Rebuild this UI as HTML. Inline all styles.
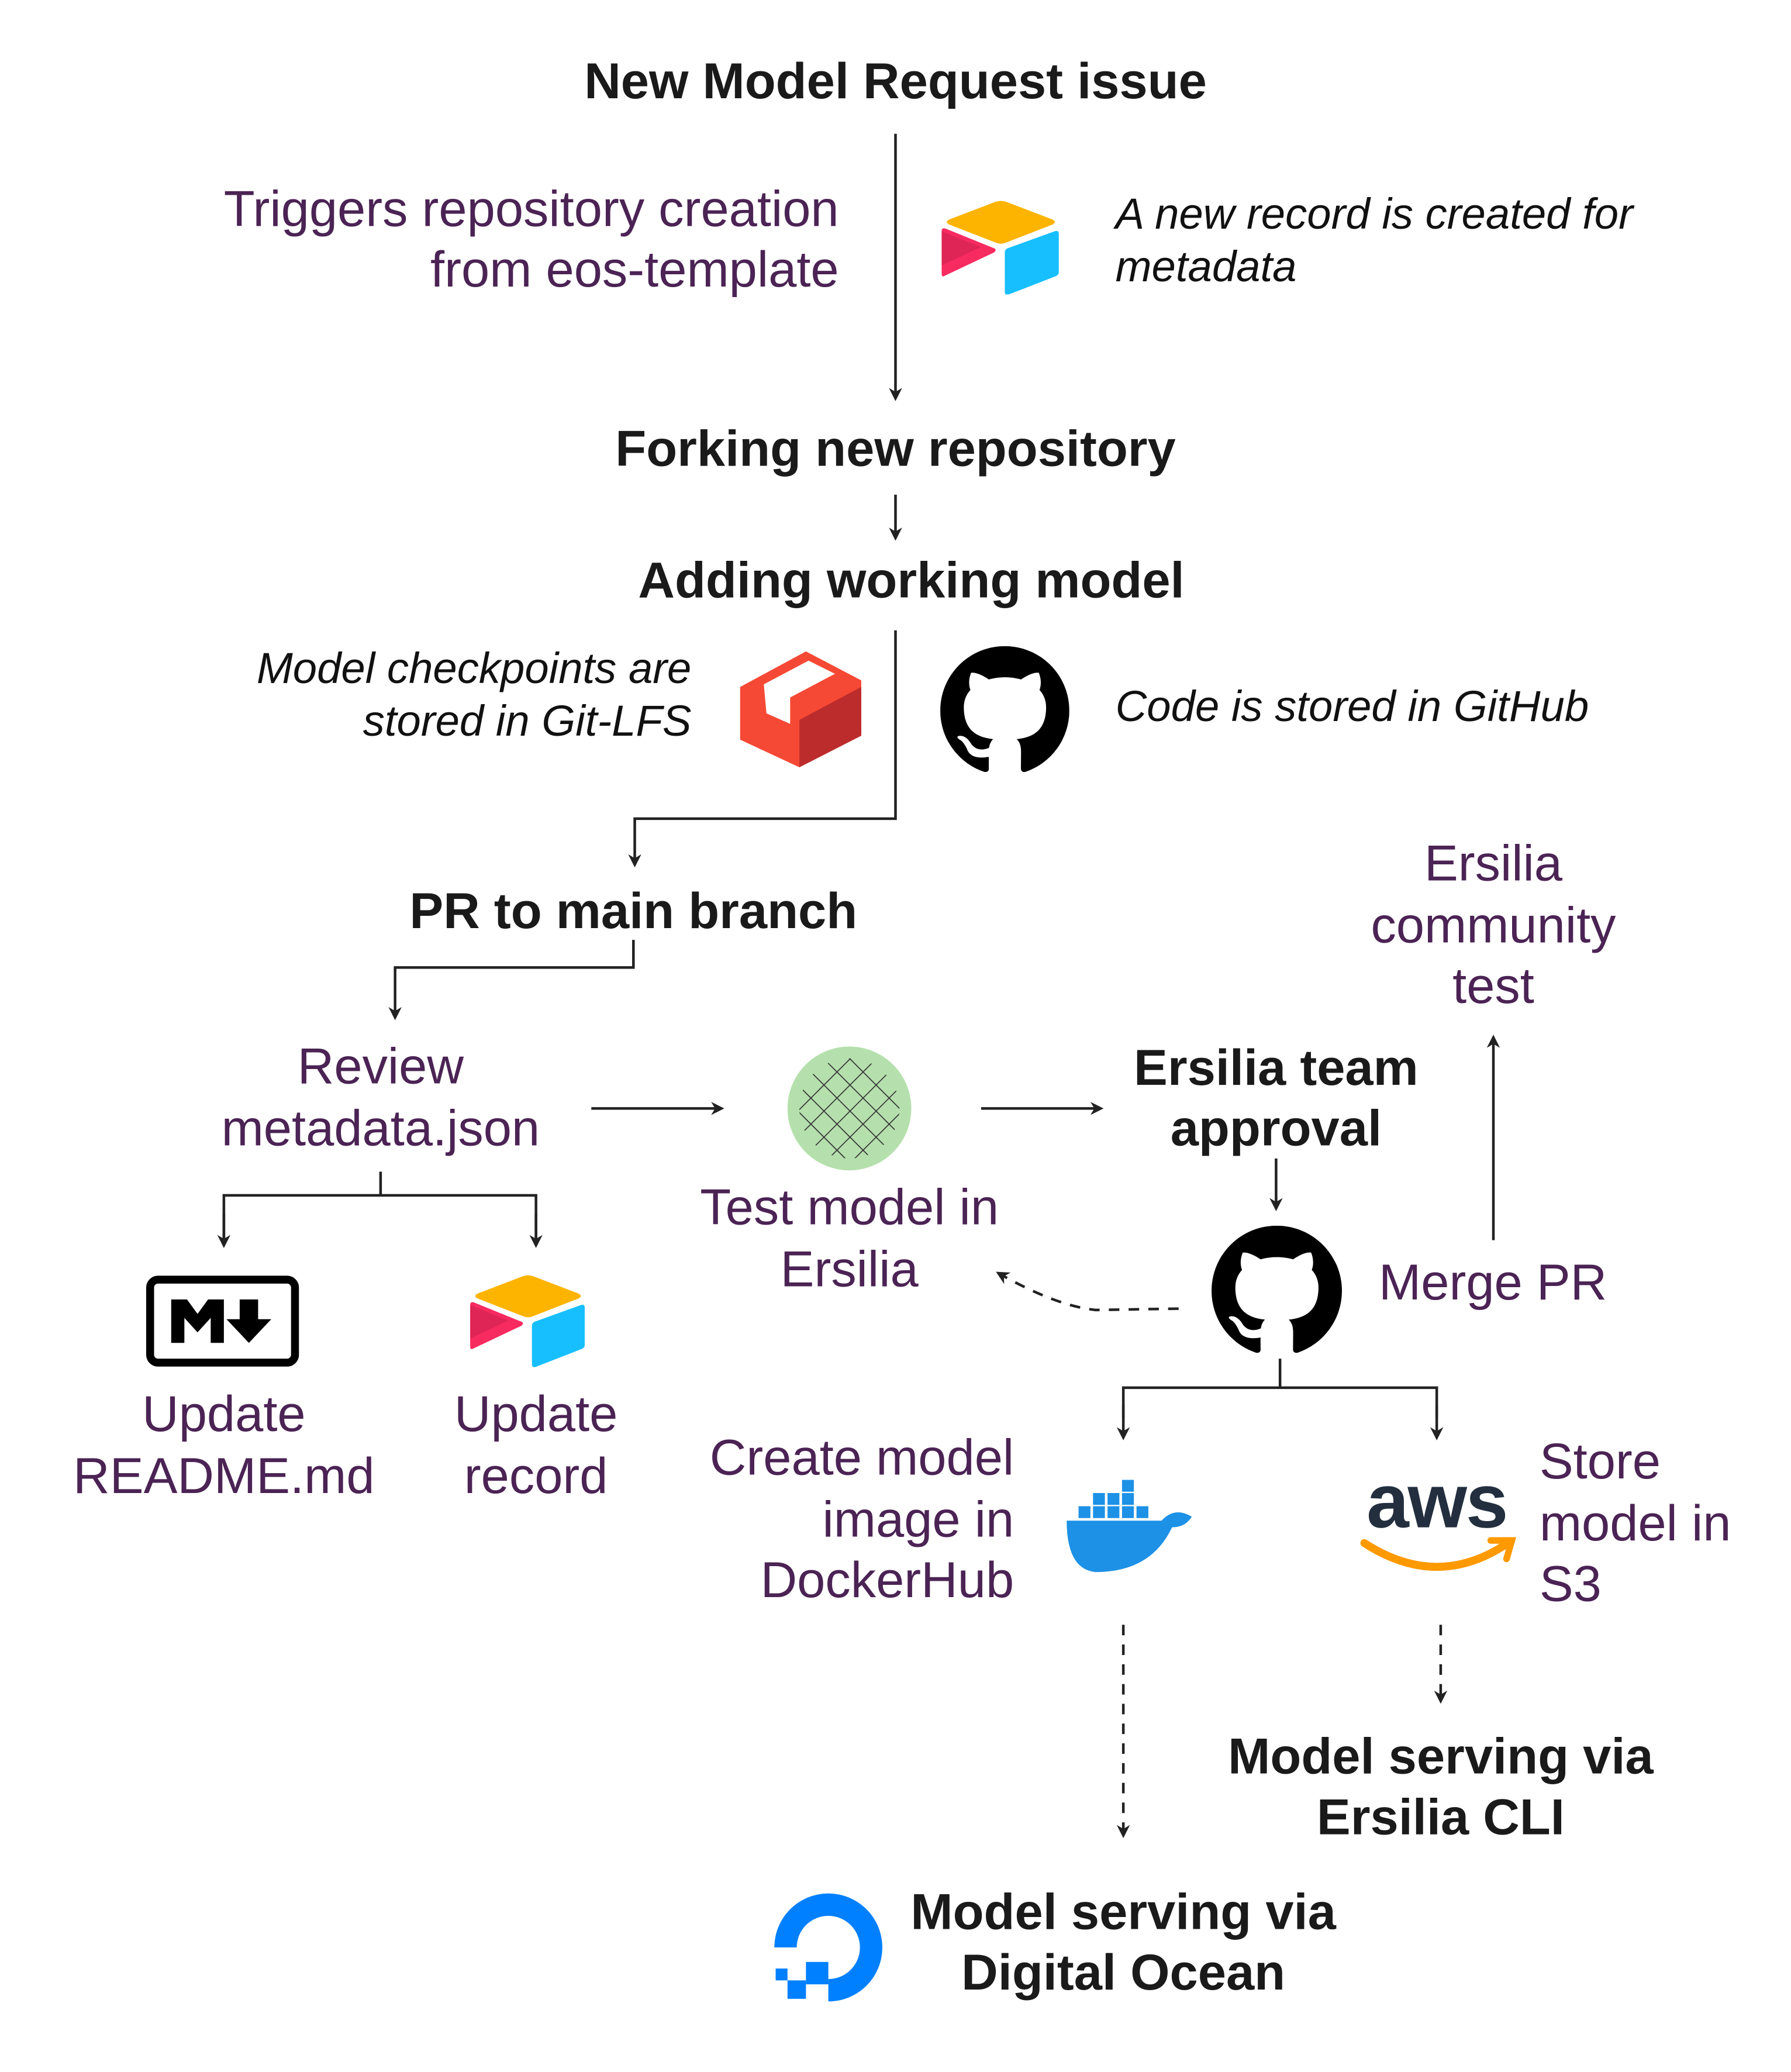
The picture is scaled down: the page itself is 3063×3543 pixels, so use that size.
<!DOCTYPE html>
<html><head><meta charset="utf-8"><style>
html,body{margin:0;padding:0;background:#fff;width:3063px;height:3543px;overflow:hidden}
svg{display:block}
text{font-family:"Liberation Sans",Arial,sans-serif}
.b{font-weight:bold;fill:#1a1a1a;font-size:38.5px}
.p{fill:#4b2354;font-size:38.5px}
.i{font-style:italic;fill:#111;font-size:33px}
.l{stroke:#222;stroke-width:2;fill:none}
.d{stroke:#222;stroke-width:2;fill:none;stroke-dasharray:8 7}
</style></head><body>
<svg width="3063" height="3543" viewBox="0 0 1360 1573" xmlns="http://www.w3.org/2000/svg">
<defs>
<marker id="a" markerWidth="10" markerHeight="10" refX="8" refY="5" orient="auto" markerUnits="userSpaceOnUse"><path d="M0,0 L10,5 L0,10 L3,5 z" fill="#222"/></marker>
<symbol id="gh" viewBox="0 0 16 16"><path fill="#000" d="M8 0C3.58 0 0 3.58 0 8c0 3.540 2.290 6.53 5.47 7.59.4.07.55-.17.55-.38 0-.19-.01-.82-.01-1.49-2.01.37-2.53-.49-2.690-.94-.09-.23-.48-.94-.82-1.130-.28-.15-.68-.52-.01-.53.63-.01 1.08.58 1.23.82.72 1.21 1.870.87 2.33.66.07-.52.28-.87.51-1.07-1.78-.2-3.64-.89-3.64-3.95 0-.87.31-1.59.82-2.15-.08-.2-.36-1.02.08-2.12 0 0 .67-.21 2.2.82.64-.18 1.32-.27 2-.27.68 0 1.36.09 2 .27 1.53-1.04 2.2-.82 2.2-.82.44 1.1.16 1.92.08 2.12.51.56.82 1.27.82 2.15 0 3.07-1.87 3.75-3.65 3.95.29.25.54.73.54 1.48 0 1.07-.01 1.93-.01 2.2 0 .21.15.46.55.38A8.013 8.013 0 0016 8c0-4.42-3.58-8-8-8z"/></symbol>
<symbol id="at" viewBox="0 0 90 72"><path d="M40 2 L6 15 Q2 17 6 19 L42 33 Q45 34 48 33 L84 19 Q88 17 84 15 L50 2 Q45 0 40 2z" fill="#fcb400"/><path d="M48 40 L48 70 Q48 73 51 72 L87 58 Q89 57 89 55 L89 26 Q89 23 86 24 L50 37 Q48 38 48 40z" fill="#18bfff"/><path d="M40 40 L2 58 Q0 59 0 56 L0 24 Q0 21 3 22 L40 37 Q42 38 40 40z" fill="#f82b60"/><path d="M0 24 L30 36 L0 50z" fill="#ba1e45" opacity="0.4"/></symbol>
<pattern id="h" width="14" height="14" patternUnits="userSpaceOnUse" patternTransform="rotate(45)"><path d="M0 0 L0 14 M0 0 L14 0" stroke="#333" stroke-width="1.5"/></pattern>
</defs>
<g transform="translate(2,1.5)">
<text class="b" x="678" y="73" text-anchor="middle">New Model Request issue</text>
<line class="l" x1="678" y1="100" x2="678" y2="301" marker-end="url(#a)"/>
<text class="p" x="635" y="170" text-anchor="end">Triggers repository creation</text>
<text class="p" x="635" y="216" text-anchor="end">from eos-template</text>
<use href="#at" x="713" y="150" width="90" height="72"/>
<text class="i" x="845" y="172">A new record is created for</text>
<text class="i" x="845" y="212">metadata</text>

<text class="b" x="678" y="352" text-anchor="middle">Forking new repository</text>
<line class="l" x1="678" y1="374" x2="678" y2="407" marker-end="url(#a)"/>
<text class="b" x="690" y="452" text-anchor="middle">Adding working model</text>

<text class="i" x="523" y="517" text-anchor="end">Model checkpoints are</text>
<text class="i" x="523" y="557" text-anchor="end">stored in Git-LFS</text>
<g>
<path d="M560 520 L610 493 L652 515 L652 557 L605 581 L560 560z" fill="#f64935"/>
<path d="M605 545 L652 520 L652 557 L605 581z" fill="#bd2c2c"/>
<path d="M578 518 L612 500 L632 510 L598 528 L598 548 L580 540z" fill="#fff"/>
</g>
<polyline class="l" points="678,477 678,620 480,620 480,655" marker-end="url(#a)"/>
<use href="#gh" x="712" y="489" width="98" height="98"/>
<text class="i" x="845" y="546">Code is stored in GitHub</text>

<text class="b" x="479" y="703" text-anchor="middle">PR to main branch</text>
<polyline class="l" points="479,712 479,733 298,733 298,771" marker-end="url(#a)"/>

<text class="p" x="287" y="821" text-anchor="middle">Review</text>
<text class="p" x="287" y="868" text-anchor="middle">metadata.json</text>
<polyline class="l" points="287,888 287,906"/>
<polyline class="l" points="168,943 168,906 405,906 405,943" />
<line class="l" x1="168" y1="920" x2="168" y2="944" marker-end="url(#a)"/>
<line class="l" x1="405" y1="920" x2="405" y2="944" marker-end="url(#a)"/>

<line class="l" x1="447" y1="840" x2="546" y2="840" marker-end="url(#a)"/>
<line class="l" x1="743" y1="840" x2="834" y2="840" marker-end="url(#a)"/>
<circle cx="643" cy="840" r="47" fill="#b5e0ad"/>
<circle cx="643" cy="840" r="38" fill="url(#h)"/>
<text class="p" x="643" y="928" text-anchor="middle">Test model in</text>
<text class="p" x="643" y="975" text-anchor="middle">Ersilia</text>

<text class="b" x="967" y="822" text-anchor="middle">Ersilia team</text>
<text class="b" x="967" y="868" text-anchor="middle">approval</text>
<line class="l" x1="967" y1="878" x2="967" y2="916" marker-end="url(#a)"/>
<use href="#gh" x="918" y="929" width="99" height="99"/>
<text class="p" x="1045" y="985">Merge PR</text>
<line class="l" x1="1132" y1="940" x2="1132" y2="786" marker-end="url(#a)"/>
<text class="p" x="1132" y="667" text-anchor="middle">Ersilia</text>
<text class="p" x="1132" y="714" text-anchor="middle">community</text>
<text class="p" x="1132" y="760" text-anchor="middle">test</text>
<path class="d" d="M893 992 L830 993 Q800 990 756 965" marker-end="url(#a)"/>

<polyline class="l" points="970,1030 970,1052"/>
<polyline class="l" points="851,1075 851,1052 1089,1052 1089,1075"/>
<line class="l" x1="851" y1="1065" x2="851" y2="1090" marker-end="url(#a)"/>
<line class="l" x1="1089" y1="1065" x2="1089" y2="1090" marker-end="url(#a)"/>

<rect x="112" y="970" width="110" height="63" rx="6" fill="#fff" stroke="#000" stroke-width="6"/>
<path d="M128 1018 V985 H140 L148 996 L156 985 H168 V1018 H158 V999 L148 1010 L138 999 V1018z" fill="#000"/>
<path d="M180 985 H194 V1000 H204 L187 1018 L170 1000 H180z" fill="#000"/>
<text class="p" x="168" y="1085" text-anchor="middle">Update</text>
<text class="p" x="168" y="1132" text-anchor="middle">README.md</text>

<use href="#at" x="355" y="965" width="88" height="72"/>
<text class="p" x="405" y="1085" text-anchor="middle">Update</text>
<text class="p" x="405" y="1132" text-anchor="middle">record</text>

<text class="p" x="768" y="1118" text-anchor="end">Create model</text>
<text class="p" x="768" y="1165" text-anchor="end">image in</text>
<text class="p" x="768" y="1211" text-anchor="end">DockerHub</text>
<g fill="#1d91e6">
<path d="M808 1153 H880 Q890 1142 903 1150 Q898 1158 888 1158 Q872 1192 830 1192 Q808 1190 808 1153z"/>
<rect x="817" y="1142" width="9" height="9"/><rect x="828" y="1142" width="9" height="9"/><rect x="839" y="1142" width="9" height="9"/><rect x="850" y="1142" width="9" height="9"/><rect x="861" y="1142" width="9" height="9"/>
<rect x="828" y="1132" width="9" height="9"/><rect x="839" y="1132" width="9" height="9"/><rect x="850" y="1132" width="9" height="9"/>
<rect x="850" y="1122" width="9" height="9"/>
</g>

<text x="1089" y="1158" text-anchor="middle" style="font-size:58px;font-weight:bold;fill:#232f3e;letter-spacing:-1px">aws</text>
<path d="M1034 1170 Q1088 1205 1140 1172" stroke="#f90" stroke-width="6" fill="none" stroke-linecap="round"/>
<path d="M1130 1168 L1146 1168 L1142 1182" stroke="#f90" stroke-width="5" fill="none" stroke-linecap="round"/>
<text class="p" x="1167" y="1121">Store</text>
<text class="p" x="1167" y="1168">model in</text>
<text class="p" x="1167" y="1214">S3</text>

<line class="d" x1="851" y1="1232" x2="851" y2="1392" marker-end="url(#a)"/>
<line class="d" x1="1092" y1="1232" x2="1092" y2="1290" marker-end="url(#a)"/>
<text class="b" x="1092" y="1345" text-anchor="middle">Model serving via</text>
<text class="b" x="1092" y="1391" text-anchor="middle">Ersilia CLI</text>

<g fill="#0080ff">
<path d="M627 1518 V1501 A24 24 0 1 0 603 1477 H586 A41 41 0 1 1 627 1518z"/>
<rect x="610" y="1488" width="17" height="17"/><rect x="596" y="1502" width="14" height="14"/><rect x="587" y="1493" width="9" height="9"/>
</g>
<text class="b" x="851" y="1463" text-anchor="middle">Model serving via</text>
<text class="b" x="851" y="1509" text-anchor="middle">Digital Ocean</text>
</g>
</svg>
</body></html>
